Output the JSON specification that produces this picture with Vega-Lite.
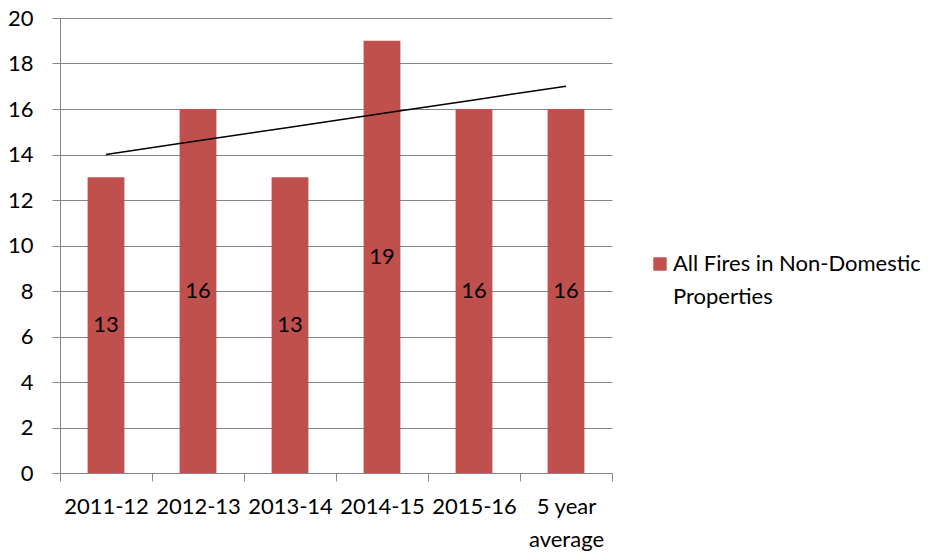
{
  "$schema": "https://vega.github.io/schema/vega-lite/v6.json",
  "width": 552,
  "height": 455,
  "autosize": {"type": "none"},
  "padding": {"left": 60, "top": 18, "right": 336, "bottom": 80},
  "background": "white",
  "config": {
    "view": {"stroke": null},
    "font": "Lato",
    "axis": {"labelFont": "Lato", "labelFontSize": 22, "labelColor": "black"},
    "style": {"guide-label": {"lineHeight": 33}}
  },
  "data": {
    "values": [
      {"period": "2011-12", "fires": 13, "trend": 14.0, "series": "All Fires in Non-Domestic Properties"},
      {"period": "2012-13", "fires": 16, "trend": 14.6, "series": "All Fires in Non-Domestic Properties"},
      {"period": "2013-14", "fires": 13, "trend": 15.2, "series": "All Fires in Non-Domestic Properties"},
      {"period": "2014-15", "fires": 19, "trend": 15.8, "series": "All Fires in Non-Domestic Properties"},
      {"period": "2015-16", "fires": 16, "trend": 16.4, "series": "All Fires in Non-Domestic Properties"},
      {"period": "5 year average", "fires": 16, "trend": 17.0, "series": "All Fires in Non-Domestic Properties"}
    ]
  },
  "encoding": {
    "x": {
      "field": "period",
      "type": "nominal",
      "sort": null,
      "scale": {"paddingInner": 0, "paddingOuter": 0},
      "axis": {
        "title": null,
        "labelAngle": 0,
        "labelPadding": 15,
        "labelBaseline": "top",
        "labelLineHeight": 33,
        "labelExpr": "datum.value == '5 year average' ? ['5 year', 'average'] : datum.value",
        "tickBand": "extent",
        "tickSize": 8,
        "tickColor": "#868686",
        "domainColor": "#868686",
        "grid": false
      }
    }
  },
  "layer": [
    {
      "mark": {"type": "bar", "color": "#C0504D", "width": {"band": 0.4}},
      "encoding": {
        "y": {
          "field": "fires",
          "type": "quantitative",
          "scale": {"domain": [0, 20], "nice": false},
          "axis": {
            "title": null,
            "values": [0, 2, 4, 6, 8, 10, 12, 14, 16, 18, 20],
            "grid": true,
            "gridColor": "#868686",
            "gridOpacity": 1,
            "tickColor": "#868686",
            "domainColor": "#868686",
            "tickSize": 8,
            "labelPadding": 19
          }
        },
        "color": {
          "field": "series",
          "type": "nominal",
          "scale": {"range": ["#C0504D"]},
          "legend": {
            "title": null,
            "orient": "none",
            "legendX": 589,
            "legendY": 235,
            "symbolType": "square",
            "symbolSize": 180,
            "symbolStrokeWidth": 0,
            "labelFont": "Lato",
            "labelFontSize": 22,
            "labelColor": "black",
            "labelLimit": 400,
            "labelBaseline": "middle",
            "labelOffset": 2,
            "labelExpr": "['All Fires in Non-Domestic', 'Properties']"
          }
        }
      }
    },
    {
      "mark": {"type": "text", "fontSize": 22, "font": "Lato", "color": "black", "baseline": "middle"},
      "encoding": {
        "y": {"field": "fires", "type": "quantitative", "scale": {"domain": [0, 40], "nice": false}, "axis": null},
        "text": {"field": "fires", "type": "quantitative"}
      }
    },
    {
      "mark": {"type": "line", "color": "black", "strokeWidth": 1.5},
      "encoding": {
        "y": {"field": "trend", "type": "quantitative", "scale": {"domain": [0, 20], "nice": false}, "axis": null}
      }
    }
  ],
  "resolve": {"scale": {"y": "independent"}}
}
